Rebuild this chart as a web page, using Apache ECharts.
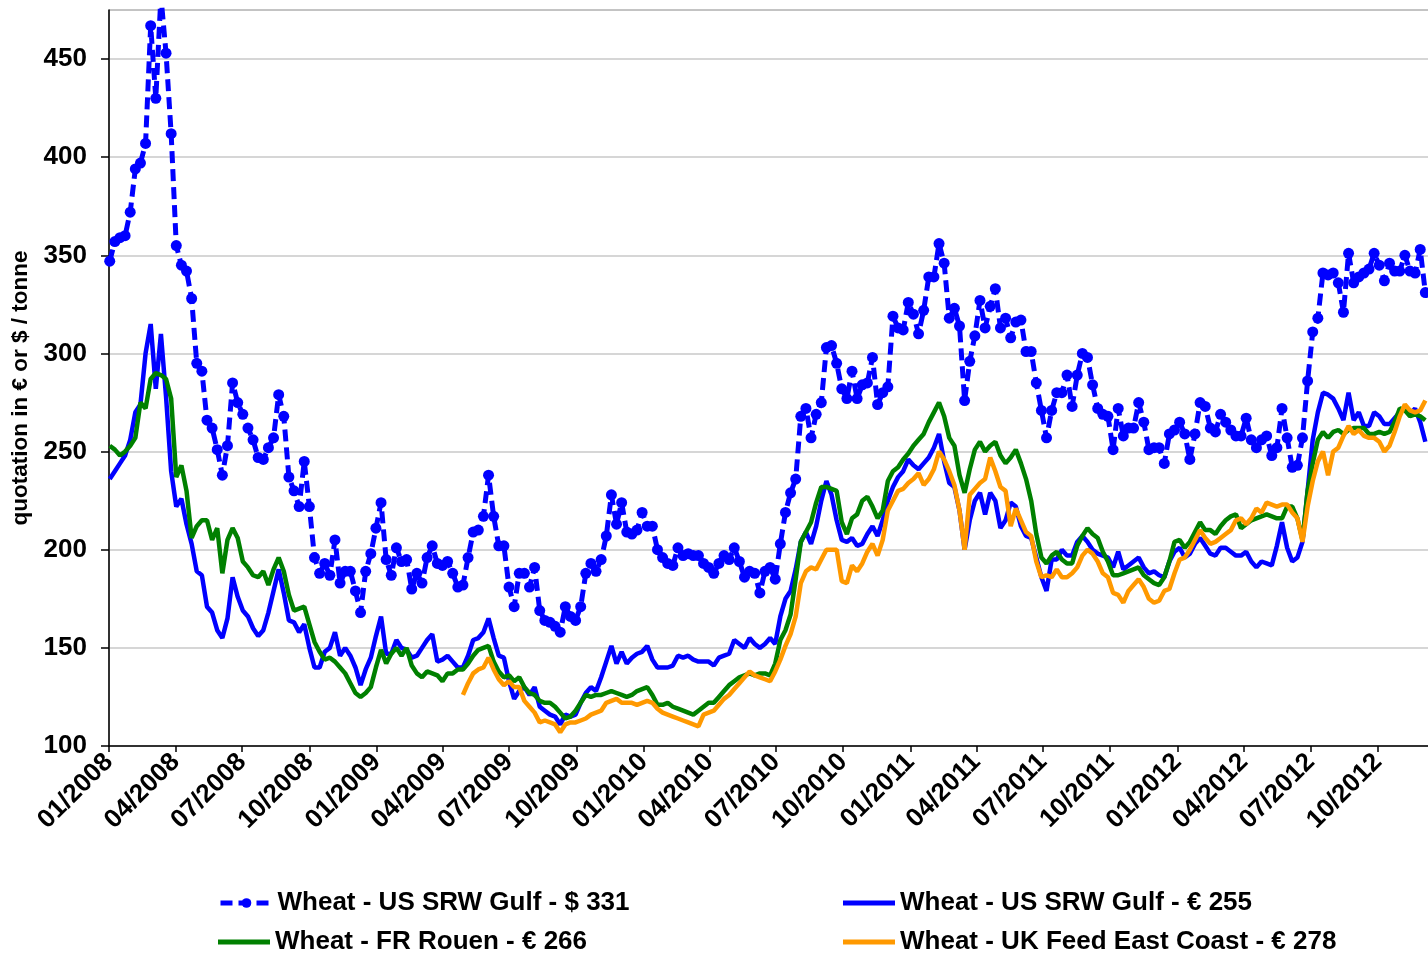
<!DOCTYPE html>
<html>
<head>
<meta charset="utf-8">
<script src="https://cdn.jsdelivr.net/npm/echarts@6/dist/echarts.min.js"></script>
<style>
  html, body { margin: 0; padding: 0; background: #fff; }
  #main { width: 1428px; height: 953px; }
</style>
</head>
<body>
<div id="main"></div>
<script>
var FONT = '"Liberation Sans", Arial, sans-serif';

// x is counted in days from 01/01/2008; weekly quotations, first one on 02/01/2008
var DAY = 24 * 3600 * 1000;
var origin = Date.UTC(2008, 0, 1);
var firstDay = 1;
var axisEnd = (Date.UTC(2012, 11, 10) - origin) / DAY;

var tickLabels = ['01/2008', '04/2008', '07/2008', '10/2008', '01/2009', '04/2009', '07/2009', '10/2009',
  '01/2010', '04/2010', '07/2010', '10/2010', '01/2011', '04/2011', '07/2011', '10/2011',
  '01/2012', '04/2012', '07/2012', '10/2012'];
var yTicks = [100, 150, 200, 250, 300, 350, 400, 450];

var seriesNames = ['Wheat - US SRW Gulf - $ 331', 'Wheat - US SRW Gulf - € 255',
  'Wheat - FR Rouen - € 266', 'Wheat - UK Feed East Coast - € 278'];

var gulfUsd = [347,357,359,360,372,394,397,407,467,430,
  482,453,412,355,345,342,328,295,291,266,
  262,251,238,253,285,275,269,262,256,247,
  246,252,257,279,268,237,230,222,245,222,
  196,188,193,187,205,183,189,189,179,168,
  189,198,211,224,195,187,201,194,195,180,
  188,183,196,202,193,192,194,188,181,182,
  196,209,210,217,238,217,202,202,181,171,
  188,188,181,191,169,164,163,161,158,171,
  166,164,171,188,193,189,195,207,228,213,
  224,209,208,210,219,212,212,200,196,193,
  192,201,197,198,197,197,193,191,188,193,
  197,195,201,194,186,189,188,178,189,191,
  185,203,219,229,236,268,272,257,269,275,
  303,304,295,282,277,291,277,284,285,298,
  274,280,283,319,313,312,326,320,310,322,
  339,339,356,346,318,323,314,276,296,309,
  327,313,324,333,313,318,308,316,317,301,
  301,285,271,257,271,280,280,289,273,289,
  300,298,284,272,269,268,251,272,258,262,
  262,275,265,251,252,252,244,259,261,265,
  259,246,259,275,273,262,260,269,265,261,
  258,258,267,256,252,256,258,248,252,272,
  257,242,243,257,286,311,318,341,340,341,
  336,321,351,336,339,341,343,351,345,337,
  346,342,342,350,342,341,353,331];

var gulfEur = [236,240,244,248,256,270,274,300,315,282,
  310,278,240,222,226,213,203,189,187,171,
  168,159,155,165,186,176,169,166,160,156,
  159,168,179,190,178,164,163,158,162,150,
  140,140,148,150,158,146,150,146,140,131,
  139,145,156,166,147,147,154,150,149,145,
  146,150,154,157,143,144,146,143,140,140,
  146,154,155,158,165,155,146,145,133,124,
  128,130,126,130,120,118,116,115,111,116,
  115,116,122,127,130,128,135,143,151,142,
  148,142,145,147,148,151,144,140,140,140,
  141,146,145,146,144,143,143,143,141,145,
  146,147,154,152,150,155,152,150,152,155,
  152,166,175,179,190,204,209,203,212,225,
  235,228,215,205,204,206,202,203,208,212,
  207,215,225,232,237,240,246,243,241,244,
  247,252,259,245,234,232,220,200,215,225,
  229,218,229,225,211,215,224,222,212,207,
  206,196,186,179,195,195,200,197,197,204,
  207,204,200,198,197,196,191,199,190,192,
  194,196,191,188,189,187,186,194,199,201,
  196,198,203,206,202,198,197,201,201,199,
  197,197,199,194,191,194,193,192,202,214,
  201,194,196,204,230,256,270,280,279,277,
  272,266,280,266,270,263,263,270,268,264,
  264,267,270,273,269,272,265,255];

var frRouen = [253,251,248,250,253,257,275,272,287,290,
  289,287,277,237,243,230,206,212,215,215,
  205,211,188,205,211,206,194,191,187,186,
  189,182,190,196,189,177,169,170,171,162,
  153,148,144,145,143,140,137,132,127,125,
  127,130,140,149,142,147,150,146,150,141,
  137,135,138,137,136,133,137,137,139,139,
  142,146,149,150,151,143,138,135,136,133,
  135,130,127,126,123,122,122,120,117,114,
  115,118,122,126,125,126,126,127,128,127,
  126,125,126,128,129,130,126,121,121,122,
  120,119,118,117,116,118,120,122,122,125,
  128,131,133,135,136,137,136,137,137,136,
  142,154,159,167,185,204,209,214,224,232,
  232,231,230,214,208,216,218,225,227,222,
  216,220,235,240,242,246,249,253,256,259,
  265,270,275,268,257,253,238,229,241,251,
  255,250,253,255,248,244,247,251,244,236,
  225,208,196,193,197,199,195,193,193,202,
  207,211,208,206,199,194,187,187,188,189,
  190,191,187,185,183,182,186,194,204,205,
  201,204,209,214,210,210,208,212,215,217,
  218,211,213,215,216,217,218,217,216,216,
  222,222,216,205,230,244,256,260,257,260,
  261,259,261,262,262,262,259,259,260,259,
  260,265,272,271,268,269,268,266];

// UK feed quotations only start in May 2009 (week 69)
var ukStart = 69;
var ukFeed = [126,132,137,139,140,145,139,134,131,133,
  130,130,123,120,117,112,113,112,111,107,
  111,112,112,113,114,116,117,118,122,123,
  124,122,122,122,121,122,123,122,119,117,
  116,115,114,113,112,111,110,116,117,118,
  121,124,126,129,132,135,138,136,135,134,
  133,138,144,151,157,166,183,189,191,190,
  195,200,200,200,184,183,192,189,193,199,
  203,197,205,220,225,230,231,234,236,239,
  233,236,241,250,246,240,233,220,200,228,
  231,234,236,247,240,232,230,212,221,215,
  209,207,194,186,187,186,190,186,186,188,
  191,197,200,198,194,188,186,178,177,173,
  179,182,185,181,175,173,174,179,180,188,
  195,196,200,205,210,206,203,204,206,208,
  210,215,216,213,216,221,219,224,223,222,
  223,223,219,216,204,222,235,245,250,238,
  250,252,258,263,259,261,258,257,257,255,
  250,253,260,268,274,271,270,271,276];

var tickValues = tickLabels.map(function (s) {
  var p = s.split('/');
  return (Date.UTC(+p[1], +p[0] - 1, 1) - origin) / DAY;
});

function toPoints(vals, offset) {
  return vals.map(function (v, i) { return [firstDay + (i + offset) * 7, v]; });
}

var legendText = { fontFamily: FONT, fontWeight: 'bold', fontSize: 26, color: '#000', lineHeight: 26 };

// one legend per entry, laid out in two columns like the original
function legendFor(name, left, top, solid) {
  var l = {
    data: [name], left: left, top: top,
    itemWidth: 52, itemGap: 0, padding: 0,
    selectedMode: false, textStyle: legendText
  };
  if (solid) {
    l.icon = 'rect';
    l.itemHeight = 5;
  } else {
    l.itemHeight = 12;
    l.lineStyle = { width: 5 };
  }
  return l;
}

var chart = echarts.init(document.getElementById('main'));

chart.setOption({
  animation: false,
  backgroundColor: '#fff',
  grid: {
    left: 109, right: -1, top: 10, bottom: 207,
    containLabel: false,
    outerBoundsMode: 'none',
    show: true, borderColor: '#888', borderWidth: 1
  },
  legend: [
    legendFor(seriesNames[0], 218, 890, false),
    legendFor(seriesNames[1], 843, 890, true),
    legendFor(seriesNames[2], 218, 929, true),
    legendFor(seriesNames[3], 843, 929, true)
  ],
  xAxis: {
    type: 'value',
    min: 0,
    max: axisEnd,
    axisLine: { lineStyle: { color: '#000', width: 1.5 } },
    axisTick: { show: true, length: 6, customValues: tickValues, lineStyle: { color: '#000', width: 1.5 } },
    splitLine: { show: false },
    axisLabel: {
      customValues: tickValues,
      rotate: 45,
      margin: 12,
      fontFamily: FONT, fontWeight: 'bold', fontSize: 26, color: '#000',
      formatter: function (v) {
        var i = tickValues.indexOf(v);
        return i >= 0 ? tickLabels[i] : '';
      }
    }
  },
  yAxis: {
    type: 'value',
    min: 100, max: 475, interval: 50,
    name: 'quotation in € or $ / tonne',
    nameLocation: 'middle',
    nameGap: 74,
    nameTextStyle: { fontFamily: FONT, fontWeight: 'bold', fontSize: 22.5, color: '#000', padding: [0, 20, 0, 0] },
    axisLine: { show: true, lineStyle: { color: '#000', width: 1.5 } },
    axisTick: { show: true, length: 8, customValues: yTicks, lineStyle: { color: '#000', width: 1.5 } },
    splitLine: { show: true, lineStyle: { color: '#c8c8c8', width: 1.5 } },
    axisLabel: {
      customValues: yTicks,
      margin: 22,
      fontFamily: FONT, fontWeight: 'bold', fontSize: 26, color: '#000'
    }
  },
  series: [
    {
      name: seriesNames[0], type: 'line',
      data: toPoints(gulfUsd, 0),
      symbol: 'circle', symbolSize: 11, showAllSymbol: true,
      itemStyle: { color: '#0000ff' },
      lineStyle: { color: '#0000ff', width: 5, type: [12, 6] }
    },
    {
      name: seriesNames[1], type: 'line',
      data: toPoints(gulfEur, 0),
      symbol: 'none',
      itemStyle: { color: '#0000ff' },
      lineStyle: { color: '#0000ff', width: 4.5 }
    },
    {
      name: seriesNames[2], type: 'line',
      data: toPoints(frRouen, 0),
      symbol: 'none',
      itemStyle: { color: '#008000' },
      lineStyle: { color: '#008000', width: 4.5 }
    },
    {
      name: seriesNames[3], type: 'line',
      data: toPoints(ukFeed, ukStart),
      symbol: 'none',
      itemStyle: { color: '#ff9900' },
      lineStyle: { color: '#ff9900', width: 4.5 }
    }
  ]
});
</script>
</body>
</html>
